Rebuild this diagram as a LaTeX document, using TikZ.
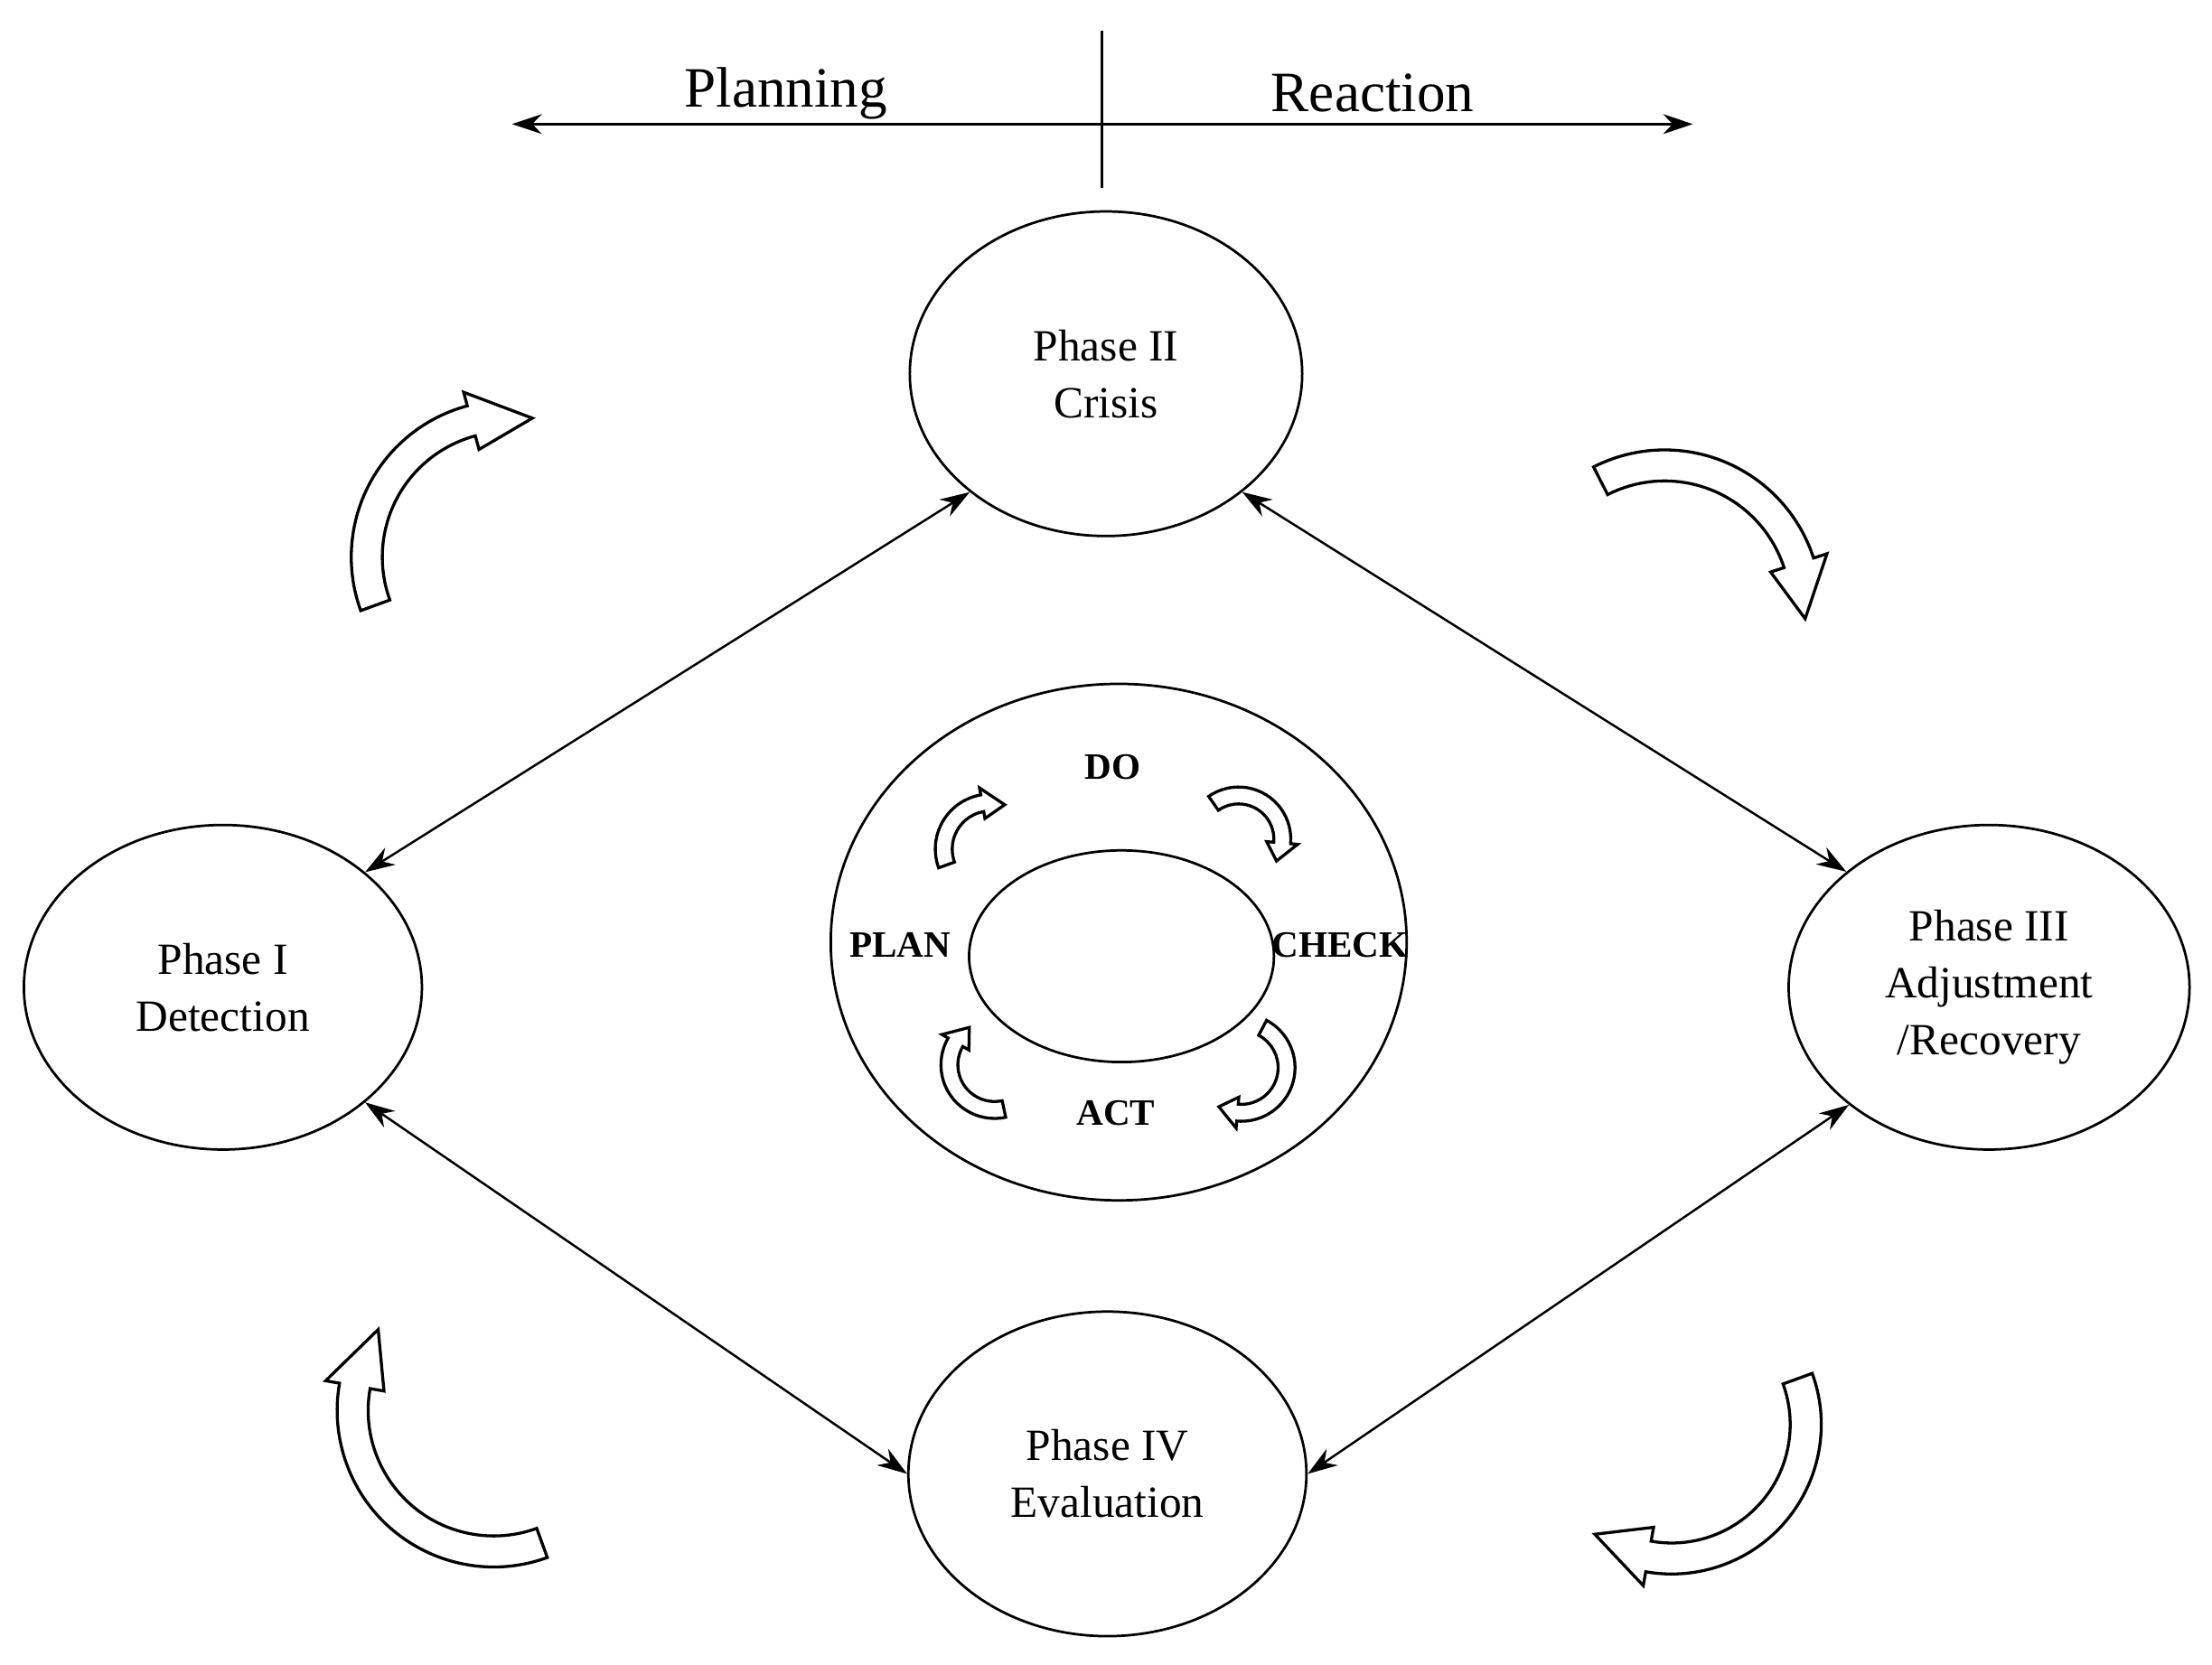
\documentclass[tikz,border=0pt]{standalone}
\usepackage{fontspec}
\setmainfont{Liberation Serif}
\usetikzlibrary{shapes.geometric,arrows.meta}
\begin{document}
\begin{tikzpicture}[x=0.01cm,y=0.01cm,
  ph/.style={ellipse,draw,line width=0.5pt,inner sep=0pt,font=\fontsize{9}{11.5}\selectfont,align=center},
  pd/.style={font=\bfseries\fontsize{7.5}{9}\selectfont,inner sep=1pt},
  con/.style={line width=0.45pt,{Stealth[length=6pt,width=4pt]}-{Stealth[length=6pt,width=4pt]}},
  blk/.style={draw,fill=white,line width=0.6pt,line join=miter}]
\useasboundingbox (0,0) rectangle (1568,1180);
% block arrow: center x,y ; r ; w ; h ; a1 ; a2 ; tip
\newcommand{\blockarrow}[8]{%
  \pgfmathsetmacro{\ro}{#3+#4}\pgfmathsetmacro{\ri}{#3-#4}%
  \pgfmathsetmacro{\rho}{#3+#5}\pgfmathsetmacro{\rhi}{#3-#5}%
  \draw[blk] ([shift={(#6:\ro)}]#1,#2) arc[start angle=#6,end angle=#7,radius=\ro]
    -- ([shift={(#7:\rho)}]#1,#2) -- ([shift={(#8:#3)}]#1,#2)
    -- ([shift={(#7:\rhi)}]#1,#2) -- ([shift={(#7:\ri)}]#1,#2)
    arc[start angle=#7,end angle=#6,radius=\ri] -- cycle;}
% top axis
\coordinate (vt) at (781,1158); \coordinate (vb) at (781,1047);
\draw[line width=0.5pt] (vt) -- (vb);
\coordinate (al) at (363,1092); \coordinate (ar) at (1200,1092);
\draw[line width=0.5pt,{Stealth[length=6pt,width=4pt]}-{Stealth[length=6pt,width=4pt]}] (al) -- (ar);
\node[font=\fontsize{11.5}{13}\selectfont] (plan) at (557,1114) {Planning};
\node[font=\fontsize{11.5}{13}\selectfont] (react) at (973,1114) {Reaction};
% phases
\node[ph,minimum width=2.78cm,minimum height=2.3cm] (p2) at (784,915) {Phase II\\Crisis};
\node[ph,minimum width=2.82cm,minimum height=2.3cm] (p1) at (158,480) {Phase I\\Detection};
\node[ph,minimum width=2.84cm,minimum height=2.3cm] (p3) at (1410,480) {Phase III\\Adjustment\\/Recovery};
\node[ph,minimum width=2.82cm,minimum height=2.3cm] (p4) at (785,135) {Phase IV\\Evaluation};
% center
\node[ellipse,draw,line width=0.5pt,minimum width=4.08cm,minimum height=3.66cm] (big) at (793,512) {};
\node[ellipse,draw,line width=0.5pt,minimum width=2.16cm,minimum height=1.5cm] (inner) at (795,502) {};
\node[pd] (do) at (789,636) {DO};
\node[pd] (pl) at (638,510) {PLAN};
\node[pd] (ck) at (950,510) {CHECK};
\node[pd] (act) at (791,391) {ACT};
% connectors
\draw[con] (p2.221) -- (p1.39);
\draw[con] (p2.-41) -- (p3.141);
\draw[con] (p1.-39) -- (p4.180);
\draw[con] (p3.220) -- (p4.0);
% big curved arrows
\blockarrow{360}{785}{100}{11}{21}{200}{105}{80}
\blockarrow{1180}{750}{100}{11}{21}{117}{18}{-5}
\blockarrow{350}{180}{100}{11}{21}{-70}{-190}{-215}
\blockarrow{1185}{170}{95}{11}{21}{20}{-100}{-125}
% small curved arrows
\blockarrow{702}{578}{33}{6}{11}{200}{100}{72}
\blockarrow{878}{585}{31}{6}{11}{125}{-5}{-30}
\blockarrow{705}{425}{32}{6}{11}{-78}{-210}{-236}
\blockarrow{880}{423}{32}{6}{11}{62}{-95}{-120}
\end{tikzpicture}
\end{document}
